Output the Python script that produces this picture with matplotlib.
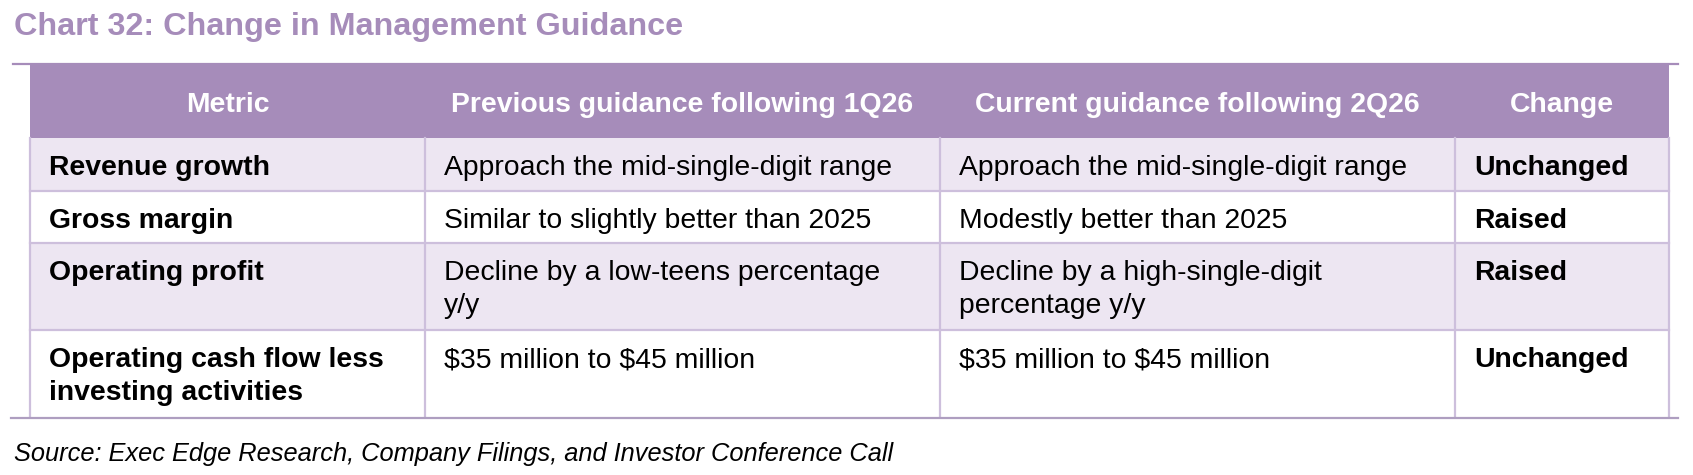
import matplotlib.pyplot as plt
from matplotlib.patches import Rectangle

plt.rcParams['font.family'] = ['Liberation Sans', 'DejaVu Sans']

title = "Chart 32: Change in Management Guidance"
source = "Source: Exec Edge Research, Company Filings, and Investor Conference Call"

headers = ["Metric", "Previous guidance following 1Q26",
           "Current guidance following 2Q26", "Change"]
metrics = ["Revenue growth", "Gross margin", "Operating profit",
           "Operating cash flow less\ninvesting activities"]
previous = ["Approach the mid-single-digit range",
            "Similar to slightly better than 2025",
            "Decline by a low-teens percentage\ny/y",
            "$35 million to $45 million"]
current = ["Approach the mid-single-digit range",
           "Modestly better than 2025",
           "Decline by a high-single-digit\npercentage y/y",
           "$35 million to $45 million"]
change = ["Unchanged", "Raised", "Raised", "Unchanged"]

# layout in pixels
W, H = 1693, 475
col_edges = [30, 425, 940, 1455, 1669]
row_edges = [138, 191, 243, 330, 417]
head_top = 65

purple = "#A68CBA"
band = "#EDE6F2"
grid = "#CDBFDC"

fig = plt.figure(figsize=(W / 100, H / 100), dpi=100)
ax = fig.add_axes([0, 0, 1, 1])
ax.set_xlim(0, W)
ax.set_ylim(H, 0)
ax.axis("off")

ax.text(14, 27, title, fontsize=23.3, fontweight="bold", color=purple,
        va="center", ha="left")

# header
ax.add_patch(Rectangle((col_edges[0], head_top), col_edges[-1] - col_edges[0],
                       row_edges[0] - head_top, color=purple, lw=0))
for i, h in enumerate(headers):
    cx = (col_edges[i] + col_edges[i + 1]) / 2
    ax.text(cx, 105, h, fontsize=20.4, fontweight="bold", color="white",
            ha="center", va="center")

# body rows
rows = list(zip(metrics, previous, current, change))
for r, row in enumerate(rows):
    top, bot = row_edges[r], row_edges[r + 1]
    if r % 2 == 0:
        ax.add_patch(Rectangle((col_edges[0], top), col_edges[-1] - col_edges[0],
                               bot - top, color=band, lw=0))
    for c, val in enumerate(row):
        bold = c in (0, 3)
        for k, line in enumerate(val.split("\n")):
            ax.text(col_edges[c] + 19, top + 30 + 33 * k, line, fontsize=20.4,
                    fontweight="bold" if bold else "normal", color="black",
                    ha="left", va="center", parse_math=False)

# grid lines
for y in row_edges[1:-1]:
    ax.plot([col_edges[0], col_edges[-1]], [y, y], color=grid, lw=1.6)
for x in col_edges:
    ax.plot([x, x], [row_edges[0], row_edges[-1]], color=grid, lw=1.6)

# top and bottom rules
ax.plot([13, 1678], [64, 64], color=purple, lw=1.6)
ax.plot([11, 1678], [418, 418], color="#AE9EC0", lw=1.6)

ax.text(14, 454, source, fontsize=18.3, fontstyle="italic", color="black",
        ha="left", va="center")

fig.savefig("out.png", dpi=100)
